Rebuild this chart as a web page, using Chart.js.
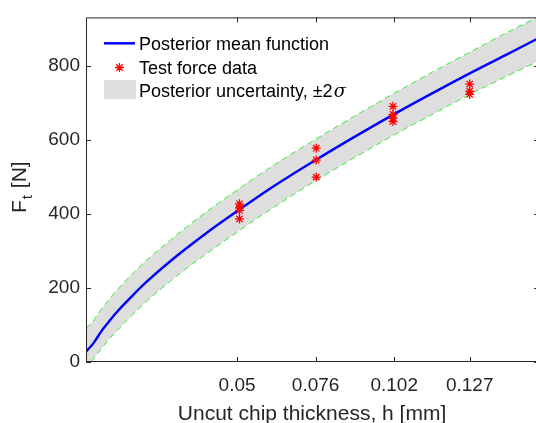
<!DOCTYPE html>
<html><head><meta charset="utf-8">
<script src="https://cdn.jsdelivr.net/npm/chart.js@4/dist/chart.umd.min.js"></script>
<style>html,body{margin:0;padding:0;overflow:hidden;background:#fff;width:536px;height:423px}canvas{display:block}</style>
</head><body>
<canvas id="c" width="545" height="423"></canvas>
<script>
// ---- data ----
const hGrid  = [0, 0.001, 0.002, 0.003, 0.005, 0.0075, 0.01, 0.015, 0.02, 0.03, 0.04, 0.05, 0.06, 0.076, 0.09, 0.102, 0.115, 0.127, 0.14, 0.15];
const meanF  = [28, 37, 46, 57, 82, 108, 133, 176, 216, 286, 349, 407, 463, 545, 613, 669, 727, 779, 833, 875];
const upperF = [91, 99, 107, 118, 142, 168, 192, 235, 274, 343, 406, 464, 520, 601, 669, 725, 784, 836, 892, 933];
const lowerF = [-22, -11, 3, 14, 35, 60, 82, 124, 163, 232, 293, 350, 406, 489, 557, 613, 670, 722, 774, 813];
const testH  = [0.0508, 0.0508, 0.0508, 0.0508, 0.0762, 0.0762, 0.0762, 0.1016, 0.1016, 0.1016, 0.1016, 0.127, 0.127, 0.127];
const testF  = [427, 416, 409, 386, 577, 545, 499, 690, 668, 658, 649, 750, 731, 722];
const xTicks = [0.05, 0.076, 0.102, 0.127];
const yTicks = [0, 200, 400, 600, 800];
const legendLabels = ['Posterior mean function', 'Test force data', 'Posterior uncertainty, \u00B12'];
const xTitle = 'Uncut chip thickness, h [mm]';

const AX = '#262626';
const FONT = '"Liberation Sans", Arial, Helvetica, sans-serif';
const BAND = '#dedede';
const GREEN = '#33ee33';

const decor = {
  id: 'decor',
  afterDatasetsDraw(chart) {
    const ctx = chart.ctx, a = chart.chartArea;
    const xs = chart.scales.x, ys = chart.scales.y;
    ctx.save();
    ctx.strokeStyle = AX; ctx.lineWidth = 1;
    ctx.beginPath();
    ctx.rect(a.left + 0.5, a.top + 0.5, a.right - a.left - 1, a.bottom - a.top - 1);
    xTicks.forEach(v => {
      const x = Math.round(xs.getPixelForValue(v)) + 0.5;
      ctx.moveTo(x, a.bottom); ctx.lineTo(x, a.bottom - 5);
      ctx.moveTo(x, a.top); ctx.lineTo(x, a.top + 5);
    });
    yTicks.forEach(v => {
      const y = Math.round(ys.getPixelForValue(v)) + 0.5;
      ctx.moveTo(a.left, y); ctx.lineTo(a.left + 5, y);
      ctx.moveTo(a.right, y); ctx.lineTo(a.right - 5, y);
    });
    ctx.stroke();
    ctx.restore();
  },
  afterDraw(chart) {
    const ctx = chart.ctx;
    ctx.save();
    // legend
    ctx.fillStyle = '#000';
    ctx.textBaseline = 'alphabetic';
    ctx.textAlign = 'left';
    ctx.font = '18px ' + FONT;
    ctx.strokeStyle = '#0000ff'; ctx.lineWidth = 2.5;
    ctx.beginPath(); ctx.moveTo(104, 43.3); ctx.lineTo(135, 43.3); ctx.stroke();
    ctx.fillText(legendLabels[0], 139, 49.5);
    ctx.strokeStyle = '#ff0000'; ctx.lineWidth = 1.3;
    Chart.helpers.drawPoint(ctx, {pointStyle: 'star', radius: 4.5, rotation: 0, borderWidth: 1.3}, 119.5, 67.5);
    ctx.fillText(legendLabels[1], 139, 74);
    ctx.fillStyle = BAND; ctx.fillRect(104, 80, 32, 19);
    ctx.fillStyle = '#000';
    ctx.fillText(legendLabels[2], 139, 97);
    const w2 = ctx.measureText(legendLabels[2]).width;
    ctx.font = 'italic 18px "DejaVu Serif", serif';
    ctx.fillText('\u03C3', 139 + w2 + 1, 97);
    // axis titles
    ctx.fillStyle = AX;
    ctx.font = '21px ' + FONT;
    ctx.textAlign = 'center';
    ctx.fillText(xTitle, 312, 420);
    ctx.translate(25.5, 213);
    ctx.rotate(-Math.PI / 2);
    ctx.textAlign = 'left';
    ctx.fillText('F', 0, 0);
    const wF = ctx.measureText('F').width;
    ctx.font = '15px ' + FONT;
    ctx.fillText('t', wF + 1, 6);
    const wt = ctx.measureText('t').width;
    ctx.font = '21px ' + FONT;
    ctx.fillText(' [N]', wF + wt + 2, 0);
    ctx.restore();
  }
};

new Chart(document.getElementById('c').getContext('2d'), {
  type: 'scatter',
  data: {
    datasets: [
      { label: 'Test force data', data: testH.map((h, i) => ({x: h, y: testF[i]})),
        pointStyle: 'star', pointRadius: 4.5, borderColor: '#ff0000', backgroundColor: '#ff0000',
        pointBorderWidth: 1.3, showLine: false },
      { label: 'Posterior mean function', data: hGrid.map((h, i) => ({x: h, y: meanF[i]})),
        showLine: true, borderColor: '#0000ff', borderWidth: 2.4, pointRadius: 0,
        cubicInterpolationMode: 'monotone', fill: false },
      { label: 'upper', data: hGrid.map((h, i) => ({x: h, y: upperF[i]})),
        showLine: true, borderColor: GREEN, borderWidth: 1, borderDash: [6, 4], pointRadius: 0,
        cubicInterpolationMode: 'monotone', fill: '+1', backgroundColor: BAND },
      { label: 'lower', data: hGrid.map((h, i) => ({x: h, y: lowerF[i]})),
        showLine: true, borderColor: GREEN, borderWidth: 1, borderDash: [6, 4], pointRadius: 0,
        cubicInterpolationMode: 'monotone', fill: false }
    ]
  },
  options: {
    responsive: false, animation: false, devicePixelRatio: 1,
    layout: {padding: {top: 15, right: 5, left: 0, bottom: 0}},
    plugins: {legend: {display: false}, tooltip: {enabled: false}, filler: {drawTime: 'beforeDatasetsDraw'}},
    scales: {
      x: { type: 'linear', min: 0, max: 0.15,
        afterBuildTicks: s => { s.ticks = xTicks.map(v => ({value: v})); },
        afterFit: s => { s.height = 61; },
        grid: {display: false, drawTicks: false}, border: {display: false},
        ticks: {color: AX, font: {family: FONT, size: 19}, padding: 12, maxRotation: 0, autoSkip: false,
          callback: v => String(v)} },
      y: { type: 'linear', min: 0, max: 930,
        afterBuildTicks: s => { s.ticks = yTicks.map(v => ({value: v})); },
        afterFit: s => { s.width = 86; },
        grid: {display: false, drawTicks: false}, border: {display: false},
        ticks: {color: AX, font: {family: FONT, size: 19}, padding: 6, autoSkip: false,
          callback: v => String(v)} }
    }
  },
  plugins: [decor]
});
</script>
</body></html>
